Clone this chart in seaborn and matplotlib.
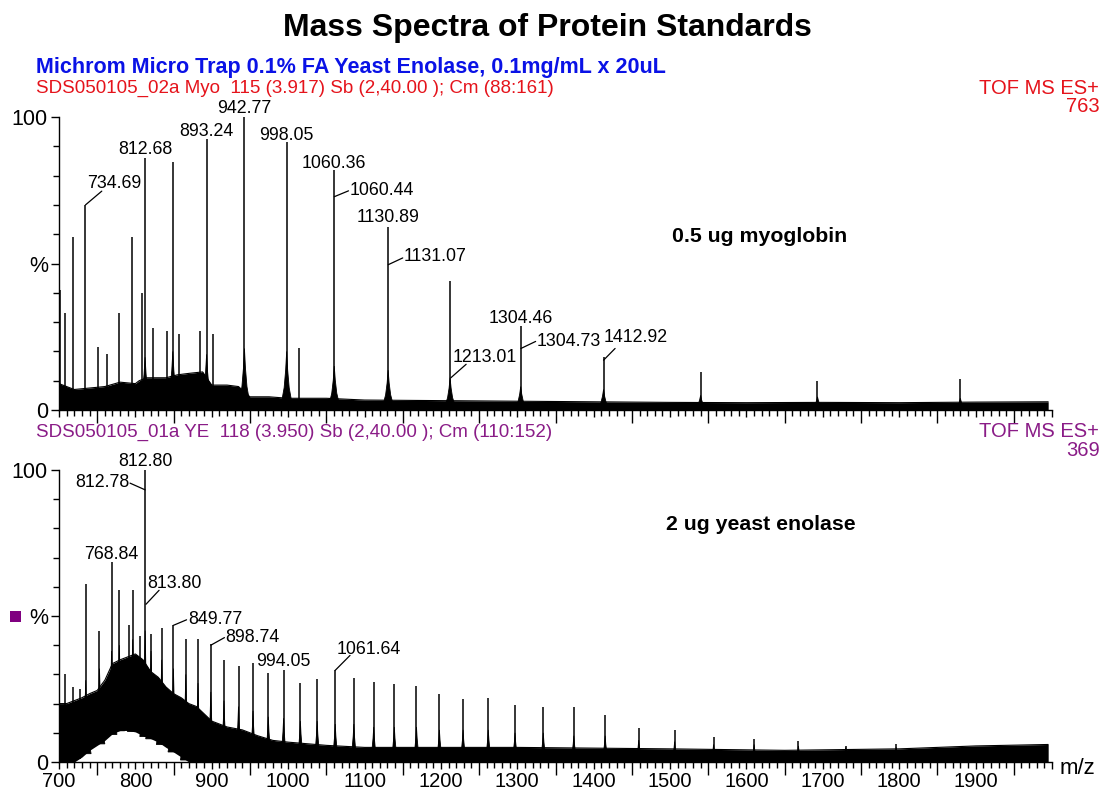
import numpy as np
import pandas as pd
import matplotlib
matplotlib.use("Agg")
import matplotlib.pyplot as plt
from matplotlib.ticker import MultipleLocator, FixedLocator, FuncFormatter
from matplotlib.patches import Rectangle
import seaborn as sns

# ---------------- data ----------------
# Top spectrum: 0.5 ug myoglobin
myo_peak_mz = [701, 708, 718, 734.69, 751, 763, 779, 796, 809, 812.68, 823, 841,
               849, 857, 885, 893.24, 901, 942.77, 998.05, 1014, 1060.36, 1130.89,
               1212, 1304.46, 1412.92, 1540, 1693, 1880]
myo_peak_int = [41, 33, 59, 70, 21.5, 19, 33, 59, 40, 86, 28, 27,
                84.5, 26, 27, 92.5, 26, 100, 91.5, 21, 82, 62.5,
                44, 28.5, 18, 13, 10, 10.5]
myo_peak_skirt = [0, 0, 0, 0, 0, 0, 0, 0, 0, 18, 0, 0,
                  20, 0, 0, 19, 0, 21, 20, 0, 15, 13.6,
                  11, 8, 7, 5, 4.5, 4]
myo_base_mz = [700, 710, 720, 740, 760, 780, 800, 805, 815, 840, 855, 870, 888,
               900, 920, 935, 950, 975, 1000, 1050, 1100, 1200, 1300, 1400,
               1500, 1600, 1700, 1800, 1900, 1995]
myo_base_hi = [9, 8, 7, 7.5, 8, 9.5, 9, 10, 11, 11, 12, 12.5, 13,
               8.5, 8.5, 8, 4.5, 4.5, 4, 4, 3.4, 3.2, 3, 2.8,
               2.6, 2.5, 2.6, 2.5, 2.7, 2.8]

# Bottom spectrum: 2 ug yeast enolase
ye_peak_mz = [700, 708, 718, 727, 735, 753, 768.84, 779, 792, 796.5, 806, 812.80,
              820.5, 834.5, 849.77, 866, 882, 898.74, 916, 935, 954, 974, 994.05,
              1016, 1038, 1061.64, 1086, 1112, 1139, 1168, 1198, 1229, 1262, 1297,
              1334, 1374, 1415, 1459, 1506, 1557, 1610, 1668, 1730, 1796]
ye_peak_int = [60.5, 30, 25.7, 25, 61, 45, 68.5, 59, 47, 59, 43, 100,
               44, 46, 46.8, 42, 42, 40.5, 35, 33, 34, 30.5, 31.6,
               27, 28.3, 31.4, 28.8, 27.4, 26.8, 26, 23.4, 21.7, 22, 19.4,
               18.7, 19, 16, 11.8, 11, 8.4, 7.8, 7.3, 5.5, 6.2]
ye_peak_skirt = [20, 0, 0, 0, 28, 32, 38, 40, 0, 42, 0, 45,
                 38, 35, 32, 30, 27, 24, 21, 19, 17.5, 15.5, 15,
                 14, 14, 13, 13, 12, 12, 12, 11, 11, 11, 10,
                 10, 9, 9, 7.5, 7, 6, 6, 5.5, 5, 5]
ye_env_mz = [700, 710, 720, 730, 740, 750, 760, 770, 780, 790, 800, 810, 820, 830,
             840, 850, 860, 870, 880, 890, 900, 910, 920, 940, 960, 980, 1000,
             1050, 1100, 1300, 1500, 1650, 1800, 1900, 1995]
ye_env_hi = [20, 20, 21, 22, 23.4, 24.5, 28, 33.7, 35, 36, 37, 35, 31, 29,
             25.7, 23.4, 22, 20, 19, 16.5, 14, 13, 12, 11, 9, 7.4, 6.8,
             5.7, 5, 5, 4.5, 4, 4.5, 5.5, 6]
ye_env_lo = [0, 0, 0, 1.7, 4, 5.7, 7.4, 9.7, 10.8, 10.8, 10.3, 9, 8, 6.8,
             5, 3.4, 1.7, 0, 0, 0, 0, 0, 0, 0, 0, 0, 0,
             0, 0, 0, 0, 0, 0, 0, 0]

# peak annotations (label text, height on the stick that the label refers to)
myo_labels = ["734.69", "812.68", "893.24", "942.77", "998.05", "1060.36", "1060.44",
              "1130.89", "1131.07", "1213.01", "1304.46", "1304.73", "1412.92"]
myo_label_h = [70, 86, 92.5, 100, 91.5, 82, 72.8, 62.5, 49.6, 11, 28.5, 21, 17]
ye_labels = ["812.80", "812.78", "768.84", "813.80", "849.77", "898.74", "994.05", "1061.64"]
ye_label_h = [100, 93.2, 68.5, 54, 46.8, 40, 31.6, 31.4]

x_tick_labels = ["700", "800", "900", "1000", "1100", "1200", "1300",
                 "1400", "1500", "1600", "1700", "1800", "1900"]
y_tick_labels = ["0", "%", "100"]

# ---------------- layout / style ----------------
# label layout: (text x, text y, ha, leader end (x, y) or None)
myo_label_layout = [
    (772, 77.3, "center", (756, 74.7)),
    (812.68, 88.9, "center", None),
    (893.24, 94.9, "center", None),
    (942.77, 102.8, "center", None),
    (998.05, 93.8, "center", None),
    (1060.36, 84.3, "center", None),
    (1080, 75.0, "left", (1079, 74.8)),
    (1130.89, 65.6, "center", None),
    (1151, 52.3, "left", (1150, 51.9)),
    (1215, 17.9, "left", (1233, 15.6)),
    (1304.46, 31.3, "center", None),
    (1325, 23.4, "left", (1324, 23.4)),
    (1413, 24.8, "left", (1428, 21.0)),
]
ye_label_layout = [
    (812.80, 102.8, "center", None),
    (792, 95.7, "right", (793, 95.5)),
    (768.84, 70.9, "center", None),
    (815, 61.0, "left", (831, 58.8)),
    (869.4, 48.7, "left", (867, 48.7)),
    (918, 42.6, "left", (916.6, 42.6)),
    (994.05, 34.4, "center", None),
    (1063.8, 38.5, "left", (1081, 36.5)),
]

RED = "#E5131B"
PURPLE = "#8A1C87"
BLUE = "#0A12E6"

sns.set_theme(style="ticks", rc={
    "axes.edgecolor": "black", "xtick.color": "black", "ytick.color": "black",
    "text.color": "black", "axes.labelcolor": "black", "axes.linewidth": 1.0,
})
plt.rcParams["font.family"] = ["Liberation Sans", "DejaVu Sans"]

W, H = 1103, 792
fig = plt.figure(figsize=(W / 100, H / 100), dpi=100)


def fx(px):
    return px / W


def fy(py):
    return 1 - py / H


ax1 = fig.add_axes([fx(59), fy(410), fx(1052) - fx(59), (410 - 117) / H])
ax2 = fig.add_axes([fx(59), fy(762), fx(1052) - fx(59), (762 - 470) / H])

shape_x = np.array([-1, -0.55, -0.3, -0.12, 0, 0.12, 0.3, 0.55, 1])
shape_y = np.array([0, 0.18, 0.38, 0.68, 1, 0.68, 0.38, 0.18, 0])


def draw_panel(ax, env_mz, env_lo, env_hi, pk_mz, pk_int, pk_skirt, w):
    ax.fill_between(env_mz, env_lo, env_hi, color="black", lw=0)
    df = pd.DataFrame({"mz": env_mz, "hi": env_hi})
    sns.lineplot(data=df, x="mz", y="hi", ax=ax, color="black", lw=0.8,
                 estimator=None, sort=False)
    base = np.interp(pk_mz, env_mz, env_lo)
    for m, s, b in zip(pk_mz, pk_skirt, base):
        if s > 0:
            ax.fill(m + w * shape_x, b + (s - b) * shape_y, color="black", lw=0.6)
    ax.vlines(pk_mz, base, pk_int, color="black", lw=1.1)


draw_panel(ax1, myo_base_mz, [0] * len(myo_base_mz), myo_base_hi,
           myo_peak_mz, myo_peak_int, myo_peak_skirt, 11)
draw_panel(ax2, ye_env_mz, ye_env_lo, ye_env_hi,
           ye_peak_mz, ye_peak_int, ye_peak_skirt, 7)


def annotate(ax, labels, heights, layout):
    for txt, h, (tx, ty, ha, lead) in zip(labels, heights, layout):
        ax.text(tx, ty, txt, ha=ha, va="center", fontsize=12.8, clip_on=False)
        if lead is not None:
            ax.plot([float(txt), lead[0]], [h, lead[1]], color="black", lw=0.9,
                    clip_on=False)


annotate(ax1, myo_labels, myo_label_h, myo_label_layout)
annotate(ax2, ye_labels, ye_label_h, ye_label_layout)

for ax in (ax1, ax2):
    ax.set_xlim(700, 2000)
    ax.set_ylim(0, 100)
    ax.spines["top"].set_visible(False)
    ax.spines["right"].set_visible(False)
    ax.spines["left"].set_bounds(0, 100)
    ax.set_xlabel("")
    ax.set_ylabel("")
    ax.xaxis.set_major_locator(MultipleLocator(50))
    ax.xaxis.set_minor_locator(MultipleLocator(10))
    ax.yaxis.set_major_locator(FixedLocator([0, 50, 100]))
    ax.yaxis.set_minor_locator(MultipleLocator(10))
    ax.set_yticklabels(y_tick_labels)
    ax.tick_params(axis="x", which="major", direction="out", length=5, width=1,
                   labelsize=14.5, pad=2)
    ax.tick_params(axis="y", which="major", direction="out", length=6, width=1,
                   labelsize=15.5, pad=2)
    ax.tick_params(axis="both", which="minor", direction="out", length=4, width=1)
    lab_map = {int(s): s for s in x_tick_labels}
    ax.xaxis.set_major_formatter(FuncFormatter(lambda v, p: lab_map.get(int(round(v)), "")))
    fig.canvas.draw()
    for t, loc in zip(ax.xaxis.get_major_ticks(), ax.xaxis.get_majorticklocs()):
        if int(round(loc)) % 100 == 50:
            t.tick1line.set_markersize(9)
        else:
            t.tick1line.set_markersize(5)

ax1.tick_params(axis="x", labelbottom=False)

# ---------------- texts ----------------
fig.text(fx(547), fy(28), "Mass Spectra of Protein Standards", ha="center", va="center",
         fontsize=23, fontweight="bold")
fig.text(fx(36), fy(68), "Michrom Micro Trap 0.1% FA Yeast Enolase, 0.1mg/mL x 20uL",
         ha="left", va="center", fontsize=15.5, fontweight="bold", color=BLUE)
fig.text(fx(36), fy(88), "SDS050105_02a Myo  115 (3.917) Sb (2,40.00 ); Cm (88:161)",
         ha="left", va="center", fontsize=13.5, color=RED)
fig.text(fx(1099), fy(88), "TOF MS ES+", ha="right", va="center", fontsize=14.5, color=RED)
fig.text(fx(1100), fy(106), "763", ha="right", va="center", fontsize=14.5, color=RED)
fig.text(fx(36), fy(432), "SDS050105_01a YE  118 (3.950) Sb (2,40.00 ); Cm (110:152)",
         ha="left", va="center", fontsize=13.5, color=PURPLE)
fig.text(fx(1099), fy(432), "TOF MS ES+", ha="right", va="center", fontsize=14.5, color=PURPLE)
fig.text(fx(1100), fy(450), "369", ha="right", va="center", fontsize=14.5, color=PURPLE)
fig.text(fx(672), fy(237), "0.5 ug myoglobin", ha="left", va="center", fontsize=15.3,
         fontweight="bold")
fig.text(fx(666), fy(524), "2 ug yeast enolase", ha="left", va="center", fontsize=15.3,
         fontweight="bold")
fig.text(fx(1060), fy(768), "m/z", ha="left", va="center", fontsize=16)
fig.patches.append(Rectangle((fx(10), fy(622)), fx(11), 11 / H, transform=fig.transFigure,
                             facecolor="#800080", edgecolor="none"))

fig.savefig("out.png", dpi=100)
